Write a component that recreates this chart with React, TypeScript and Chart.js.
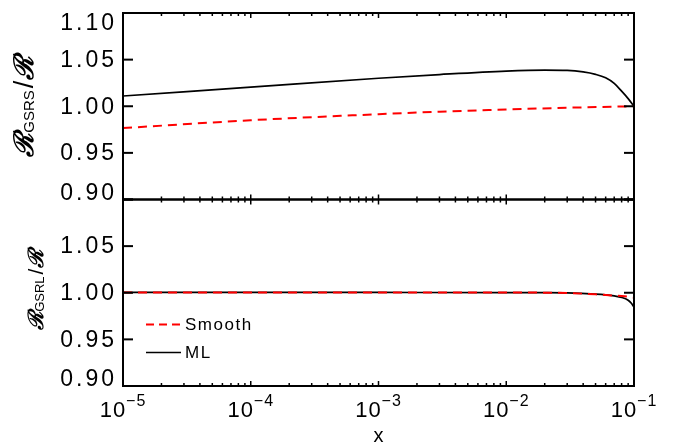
import React, { useEffect, useRef } from 'react';
import { Chart, registerables } from 'chart.js';
Chart.register(...registerables);

// ---- data ----
const xTopML = [1e-5, 1e-4, 1e-3, 3e-3, 1e-2, 2e-2, 3e-2, 4e-2, 5e-2, 6e-2, 7e-2, 8e-2, 9e-2, 1e-1];
const yTopML = [1.011, 1.0205, 1.030, 1.0340, 1.0377, 1.0387, 1.0384, 1.0368, 1.0342, 1.0305, 1.0245, 1.0162, 1.0082, 1.000];
const xTopSmooth = [1e-5, 1e-4, 1e-3, 3e-3, 1e-2, 3e-2, 1e-1];
const yTopSmooth = [0.9766, 0.985, 0.9915, 0.9942, 0.9965, 0.9984, 1.000];
const xBotML = [1e-5, 1e-4, 1e-3, 1e-2, 2e-2, 3e-2, 5e-2, 6e-2, 7e-2, 8e-2, 9e-2, 9.5e-2, 1e-1];
const yBotML = [1.0003, 1.0003, 1.0003, 1.0002, 1.0001, 0.9998, 0.9985, 0.9977, 0.9966, 0.995, 0.992, 0.989, 0.9845];
const xBotSmooth = [1e-5, 1e-4, 1e-3, 1e-2, 2e-2, 3e-2, 5e-2, 7e-2, 8e-2, 9e-2, 1e-1];
const yBotSmooth = [1.0003, 1.0003, 1.0003, 1.0002, 1.0001, 0.9997, 0.9983, 0.997, 0.9964, 0.9957, 0.9948];

const xDecades = [1e-5, 1e-4, 1e-3, 1e-2, 1e-1];
const xTickExponents = ['\u22125', '\u22124', '\u22123', '\u22122', '\u22121'];
const yTickValues = [0.9, 0.95, 1.0, 1.05, 1.1];
const yTopTickLabels = ['0.90', '0.95', '1.00', '1.05', '1.10'];
const yBotTickLabels = ['0.90', '0.95', '1.00', '1.05', ''];
const seriesLabels = ['Smooth', 'ML'];
const xTitle = 'x';
const topSub = 'GSRS';
const botSub = 'GSRL';

const RED = '#ff0000';
const BLACK = '#000000';
const SANS = '"Liberation Sans", Arial, sans-serif';

function pts(xs: number[], ys: number[]) {
  return xs.map((x, i) => ({ x, y: ys[i] }));
}

function drawSpaced(ctx: CanvasRenderingContext2D, text: string, x: number, y: number, spacing: number, align: 'left' | 'right' | 'center') {
  (ctx as any).letterSpacing = spacing + 'px';
  const w = ctx.measureText(text).width - spacing;
  let sx = x;
  if (align === 'right') sx = x - w;
  else if (align === 'center') sx = x - w / 2;
  ctx.textAlign = 'left';
  ctx.fillText(text, sx, y);
  (ctx as any).letterSpacing = '0px';
  return w;
}

function drawYTitle(ctx: CanvasRenderingContext2D, cx: number, cy: number, sub: string, mainSize: number, subSize: number) {
  ctx.save();
  ctx.translate(cx, cy);
  ctx.rotate(-Math.PI / 2);
  ctx.textBaseline = 'alphabetic';
  ctx.textAlign = 'left';
  ctx.fillStyle = BLACK;
  const parts = [
    { t: '\u211B', f: `bold italic ${mainSize}px "DejaVu Serif", serif`, dy: 0, gap: 0 },
    { t: sub, f: `${subSize}px ${SANS}`, dy: 1, gap: 2 },
    { t: '/', f: `${mainSize}px ${SANS}`, dy: 0, gap: 1 },
    { t: '\u211B', f: `bold italic ${mainSize}px "DejaVu Serif", serif`, dy: 0, gap: 0 },
  ];
  let total = 0;
  const widths = parts.map((p) => {
    ctx.font = p.f;
    const w = ctx.measureText(p.t).width + p.gap;
    total += w;
    return w;
  });
  let x = -total / 2;
  parts.forEach((p, i) => {
    ctx.font = p.f;
    ctx.fillText(p.t, x, p.dy);
    x += widths[i];
  });
  ctx.restore();
}

const idlAxes = {
  id: 'idlAxes',
  afterDraw(chart: any) {
    const ctx: CanvasRenderingContext2D = chart.ctx;
    const xs = chart.scales.x;
    const panels = [
      { ys: chart.scales.yTop, labels: yTopTickLabels },
      { ys: chart.scales.yBot, labels: yBotTickLabels },
    ];
    const L = xs.left;
    const R = xs.right;
    ctx.save();
    ctx.strokeStyle = BLACK;
    ctx.fillStyle = BLACK;
    ctx.lineWidth = 2;
    const seg = (x1: number, y1: number, x2: number, y2: number) => {
      ctx.beginPath();
      ctx.moveTo(x1, y1);
      ctx.lineTo(x2, y2);
      ctx.stroke();
    };
    panels.forEach(({ ys, labels }) => {
      const T = ys.top;
      const B = ys.bottom;
      ctx.lineWidth = 2;
      ctx.strokeRect(L, T, R - L, B - T);
      yTickValues.forEach((v) => {
        const py = ys.getPixelForValue(v);
        seg(L, py, L + 10, py);
        seg(R, py, R - 10, py);
      });
      // x ticks
      ctx.lineWidth = 1.5;
      xDecades.forEach((d, i) => {
        const px = xs.getPixelForValue(d);
        seg(px, T, px, T + 5);
        seg(px, B, px, B - 5);
        if (i < xDecades.length - 1) {
          for (let k = 2; k <= 9; k++) {
            const mx = xs.getPixelForValue(k * d);
            seg(mx, T, mx, T + 3);
            seg(mx, B, mx, B - 3);
          }
        }
      });
      // y tick labels
      ctx.font = `23px ${SANS}`;
      ctx.textBaseline = 'middle';
      yTickValues.forEach((v, i) => {
        if (!labels[i]) return;
        let py = ys.getPixelForValue(v);
        py = Math.max(T + 10, Math.min(B - 7, py));
        drawSpaced(ctx, labels[i], L - 9, py + 1, 3, 'right');
      });
    });

    // x tick labels with superscripts
    const yB = chart.scales.yBot.bottom;
    ctx.textBaseline = 'alphabetic';
    xDecades.forEach((d, i) => {
      const px = xs.getPixelForValue(d);
      ctx.font = `22px ${SANS}`;
      (ctx as any).letterSpacing = '1px';
      const wb = ctx.measureText('10').width;
      ctx.font = `16px ${SANS}`;
      const ws = ctx.measureText(xTickExponents[i]).width;
      (ctx as any).letterSpacing = '0px';
      const start = px - (wb + ws) / 2;
      ctx.font = `22px ${SANS}`;
      drawSpaced(ctx, '10', start, yB + 31, 1, 'left');
      ctx.font = `16px ${SANS}`;
      drawSpaced(ctx, xTickExponents[i], start + wb, yB + 20, 1, 'left');
    });

    // x title
    ctx.font = `20px ${SANS}`;
    ctx.textAlign = 'center';
    ctx.fillText(xTitle, (L + R) / 2, yB + 56);

    // y titles
    const yt = chart.scales.yTop;
    const yb = chart.scales.yBot;
    drawYTitle(ctx, 33, (yt.top + yt.bottom) / 2, topSub, 27, 15);
    drawYTitle(ctx, 43, (yb.top + yb.bottom) / 2 - 3, botSub, 21, 13);

    // legend inside lower panel
    const legendItems = [
      { label: seriesLabels[0], color: RED, dash: [8, 5] },
      { label: seriesLabels[1], color: BLACK, dash: [] as number[] },
    ];
    legendItems.forEach((it, i) => {
      const ly = yb.top + 125 + i * 28;
      ctx.strokeStyle = it.color;
      ctx.lineWidth = it.color === RED ? 2 : 1.6;
      ctx.setLineDash(it.dash);
      seg(L + 23, ly, L + 58, ly);
      ctx.setLineDash([]);
      ctx.fillStyle = BLACK;
      ctx.font = `17px ${SANS}`;
      ctx.textBaseline = 'middle';
      drawSpaced(ctx, it.label, L + 62, ly + 1, 1.5, 'left');
    });
    ctx.restore();
  },
};

export default function App() {
  const ref = useRef<HTMLCanvasElement | null>(null);
  useEffect(() => {
    if (!ref.current) return;
    const lineBase = {
      pointRadius: 0,
      fill: false,
      cubicInterpolationMode: 'monotone' as const,
    };
    const chart = new Chart(ref.current, {
      type: 'line',
      data: {
        datasets: [
          { ...lineBase, label: seriesLabels[0], data: pts(xTopSmooth, yTopSmooth), borderColor: RED, borderWidth: 2, borderDash: [9, 6], yAxisID: 'yTop' },
          { ...lineBase, label: seriesLabels[0], data: pts(xBotSmooth, yBotSmooth), borderColor: RED, borderWidth: 2, borderDash: [9, 6], yAxisID: 'yBot' },
          { ...lineBase, label: seriesLabels[1], data: pts(xTopML, yTopML), borderColor: BLACK, borderWidth: 1.7, yAxisID: 'yTop' },
          { ...lineBase, label: seriesLabels[1], data: pts(xBotML, yBotML), borderColor: BLACK, borderWidth: 1.7, yAxisID: 'yBot' },
        ],
      },
      options: {
        responsive: false,
        animation: false,
        devicePixelRatio: 1,
        layout: { padding: { left: 123, right: 44, top: 13, bottom: 60 } },
        plugins: { legend: { display: false }, tooltip: { enabled: false } },
        scales: {
          x: { type: 'logarithmic', min: 1e-5, max: 1e-1, display: false },
          yBot: { type: 'linear', min: 0.9, max: 1.1, display: false, stack: 'panels', stackWeight: 1 },
          yTop: { type: 'linear', min: 0.9, max: 1.1, display: false, stack: 'panels', stackWeight: 1 },
        },
      },
      plugins: [idlAxes],
    });
    return () => chart.destroy();
  }, []);
  return (
    <div style={{ position: 'absolute', left: 0, top: 0, width: 678, height: 446, background: '#fff' }}>
      <canvas ref={ref} width={678} height={446} style={{ width: 678, height: 446, display: 'block' }} />
    </div>
  );
}
